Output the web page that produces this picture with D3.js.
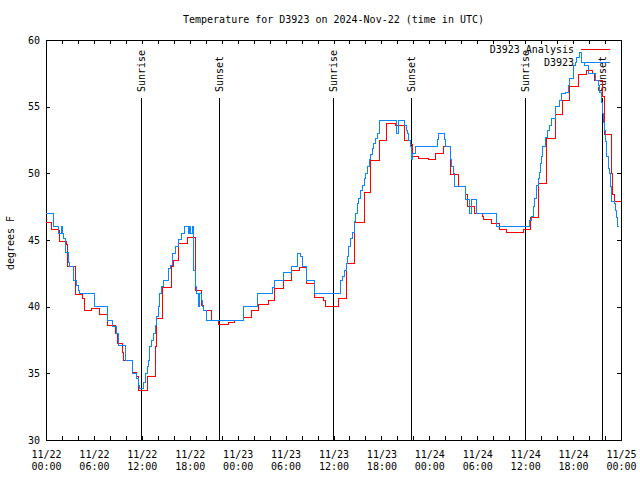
<!DOCTYPE html>
<html><head><meta charset="utf-8">
<script src="https://cdn.jsdelivr.net/npm/d3@7"></script>
<style>
body{margin:0;background:#fff;}
text{font-family:"DejaVu Sans Mono",monospace;font-size:10px;fill:#000;}
</style></head>
<body><svg id="c" width="640" height="480"></svg>
<script>
// ---- data (hours since 2024-11-22 00:00 UTC, degrees F) ----
const obsHours = [0,0.92,1.54,1.96,2.08,2.25,2.5,2.8,2.92,3.42,3.84,4.05,4.17,6.13,7.72,8.35,8.85,9.1,9.93,10.81,11.35,11.56,11.77,12.19,12.4,12.69,12.85,13.02,13.23,13.44,13.65,13.86,14.07,14.27,14.48,14.69,15.32,15.53,15.86,16.2,16.57,16.99,17.4,17.9,18.0,18.15,18.3,18.45,18.53,18.66,18.87,19.08,19.2,19.41,19.62,19.78,20.12,24.79,26.5,28.38,28.59,29.8,30.76,31.47,31.89,32.1,32.68,33.68,36.85,37.15,37.36,37.57,37.73,37.94,38.15,38.36,38.57,38.78,38.99,39.19,39.4,39.61,39.82,40.03,40.24,40.45,40.65,40.86,41.07,41.28,41.49,41.82,43.91,44.12,44.2,44.83,45.08,45.25,45.41,45.58,45.71,45.83,46.25,49.0,49.21,49.88,50.05,50.59,50.8,51.0,51.21,52.47,53.09,53.3,53.93,56.44,60.6,60.81,61.02,61.23,61.44,61.65,61.77,61.94,62.07,62.19,62.49,62.78,63.03,63.32,63.74,63.86,64.36,64.57,65.11,65.41,65.61,66.03,66.24,66.45,66.78,67.08,67.49,67.91,68.75,69.16,69.37,69.58,69.71,69.8,69.88,70.0,70.21,70.42,70.5,70.63,70.84,71.13,71.26,71.47,71.55,71.75];
const obsTemps = [47.0,46.0,45.5,46.0,45.5,45.1,44.1,43.3,43.0,42.0,41.6,41.25,41.0,40.0,39.0,38.5,38.0,37.1,36.0,35.0,34.6,34.1,33.9,34.3,35.0,35.5,36.0,37.0,37.5,38.0,38.6,39.25,40.0,41.0,41.5,42.0,42.9,43.1,44.0,44.5,45.05,45.5,46.0,45.5,46.0,45.5,46.0,44.1,42.7,41.5,41.0,40.0,41.0,40.5,40.0,39.75,39.0,40.0,41.0,41.45,42.0,42.6,43.0,44.0,43.75,43.0,42.0,41.0,42.0,42.25,42.75,43.25,43.75,44.5,45.1,45.6,46.4,47.0,47.75,48.1,48.75,49.1,49.6,50.0,50.5,51.05,51.4,51.875,52.25,52.6,53.0,54.0,53.0,53.5,54.0,53.6,53.25,53.0,52.5,52.0,51.05,51.5,52.0,52.55,53.0,52.55,52.0,51.05,50.5,50.0,49.05,48.05,47.0,48.05,47.0,46.0,46.5,46.75,47.5,48.1,49.1,49.6,50.1,50.75,51.25,52.05,52.7,53.25,53.6,54.125,54.6,55.0,55.5,56.0,56.1,56.6,57.1,58.1,58.35,58.7,59.05,58.3,58.1,57.5,56.95,56.6,56.1,55.35,54.5,53.8,53.25,52.4,51.25,50.4,50.0,49.0,47.9,47.75,47.2,46.7,46.0,46.0];
const anaHours = [0,0.71,1.54,1.75,2.59,2.67,3.71,4.59,4.76,5.72,6.76,7.72,8.64,8.93,9.6,9.68,10.77,11.35,11.6,12.73,13.69,13.86,14.61,15.74,15.94,16.57,17.75,18.7,19.49,19.7,20.74,21.58,22.83,23.66,24.79,25.75,26.59,27.84,28.59,29.72,30.76,31.68,32.64,33.68,34.73,35.02,36.65,37.57,38.59,39.82,40.65,41.74,42.66,43.79,44.83,45.58,45.83,46.62,47.87,48.71,49.75,50.59,50.71,51.63,52.47,52.72,53.65,54.6,54.8,55.81,56.77,57.68,59.77,60.69,61.69,62.69,63.74,64.7,65.61,66.66,67.62,68.41,68.62,69.71,69.88,70.84,70.96,71.13,72];
const anaTemps = [46.3,45.8,45.7,44.9,44.7,43.0,40.9,40.6,39.7,39.9,39.4,38.6,38.0,37.25,36.6,36.0,35.1,34.8,33.75,34.75,37.0,39.1,41.45,43.0,43.5,44.75,45.2,41.25,40.1,39.75,38.95,38.7,38.8,38.95,39.2,39.7,40.2,40.5,41.375,42.0,42.75,42.95,41.75,40.7,40.5,40.0,40.6,43.25,46.35,48.6,51.0,52.5,53.75,53.6,52.5,52.2,51.25,51.1,51.05,51.5,52.0,51.5,49.95,49.05,48.4,47.55,47.0,46.8,46.55,46.25,45.8,45.55,45.8,46.7,49.25,52.6,54.45,55.45,56.55,57.4,57.7,57.5,57.0,55.75,52.9,50.0,48.4,47.9,47.9];
const sunHours = [11.92,21.7,35.98,45.76,60.03,69.63];
const sunLabels = ["Sunrise","Sunset","Sunrise","Sunset","Sunrise","Sunset"];
const seriesNames = ["D3923 Analysis","D3923"];
const seriesColors = ["#ff0000","#0a86ff"];
const yTicks = [30,35,40,45,50,55,60];
const titleText = "Temperature for D3923 on 2024-Nov-22 (time in UTC)";
const yLabel = "degrees F";

const t0 = Date.UTC(2024,10,22);
const toDate = h => new Date(t0 + h*3600000);

const L=46,R=621,T=40,B=440;
const svg = d3.select("#c");
const x = d3.scaleUtc().domain([toDate(0),toDate(72)]).range([L,R]);
const y = d3.scaleLinear().domain([30,60]).range([B,T]);

const tick2h = d3.range(0,73,2).map(toDate);
const fmtD = d3.utcFormat("%m/%d"), fmtT = d3.utcFormat("%H:%M");

// axes
const gb = svg.append("g").attr("transform",`translate(0,${B})`)
  .call(d3.axisBottom(x).tickValues(tick2h).tickSize(-4).tickSizeOuter(0).tickPadding(0).tickFormat(""));
gb.selectAll(".tick").each(function(d){
  const h = (d - t0)/3600000;
  if (h % 6 === 0) {
    const t = d3.select(this).append("text").attr("text-anchor","middle").attr("fill","#000");
    t.append("tspan").attr("x",0).attr("y",17.5).text(fmtD(d));
    t.append("tspan").attr("x",0).attr("y",29.5).text(fmtT(d));
  }
});
svg.append("g").attr("transform",`translate(0,${T})`)
  .call(d3.axisTop(x).tickValues(tick2h).tickSize(-4).tickSizeOuter(0).tickFormat(""));
svg.append("g").attr("transform",`translate(${L},0)`)
  .call(d3.axisLeft(y).tickValues(yTicks).tickSize(-4).tickSizeOuter(0).tickPadding(6).tickFormat(d3.format("d")));
svg.append("g").attr("transform",`translate(${R},0)`)
  .call(d3.axisRight(y).tickValues(yTicks).tickSize(-4).tickSizeOuter(0).tickFormat(""));
svg.selectAll(".domain").remove();
svg.selectAll(".tick line").attr("stroke","#000").attr("shape-rendering","crispEdges");
svg.selectAll(".tick text").attr("fill","#000").style("font-family",'"DejaVu Sans Mono",monospace').style("font-size","10px");

// frame
svg.append("rect").attr("x",L).attr("y",T).attr("width",R-L).attr("height",B-T)
  .attr("fill","none").attr("stroke","#000").attr("shape-rendering","crispEdges");

// sunrise / sunset
sunHours.forEach((h,i)=>{
  const sx = Math.round(x(toDate(h)));
  svg.append("line").attr("x1",sx).attr("x2",sx).attr("y1",98).attr("y2",B)
    .attr("stroke","#000").attr("shape-rendering","crispEdges");
  svg.append("text").attr("transform",`translate(${sx+4},92) rotate(-90)`)
    .attr("text-anchor","start").text(sunLabels[i]);
});

// series
const line = d3.line().curve(d3.curveStepAfter).x(d=>x(toDate(d[0]))).y(d=>y(d[1]));
const ana = anaHours.map((h,i)=>[h,anaTemps[i]]);
const obs = obsHours.map((h,i)=>[h,obsTemps[i]]);
[ana,obs].forEach((s,i)=>{
  svg.append("path").datum(s).attr("d",line).attr("fill","none")
    .attr("stroke",seriesColors[i]).attr("stroke-width",1).attr("shape-rendering","crispEdges");
});

// legend
seriesNames.forEach((n,i)=>{
  const ly = 49.5 + i*13;
  svg.append("text").attr("x",574).attr("y",ly+3.5).attr("text-anchor","end").text(n);
  svg.append("line").attr("x1",581).attr("x2",610).attr("y1",ly).attr("y2",ly)
    .attr("stroke",seriesColors[i]).attr("shape-rendering","crispEdges");
});

// title & y label
svg.append("text").attr("x",(L+R)/2).attr("y",23).attr("text-anchor","middle").text(titleText);
svg.append("text").attr("transform","translate(14,243) rotate(-90)").attr("text-anchor","middle").text(yLabel);
</script></body></html>
